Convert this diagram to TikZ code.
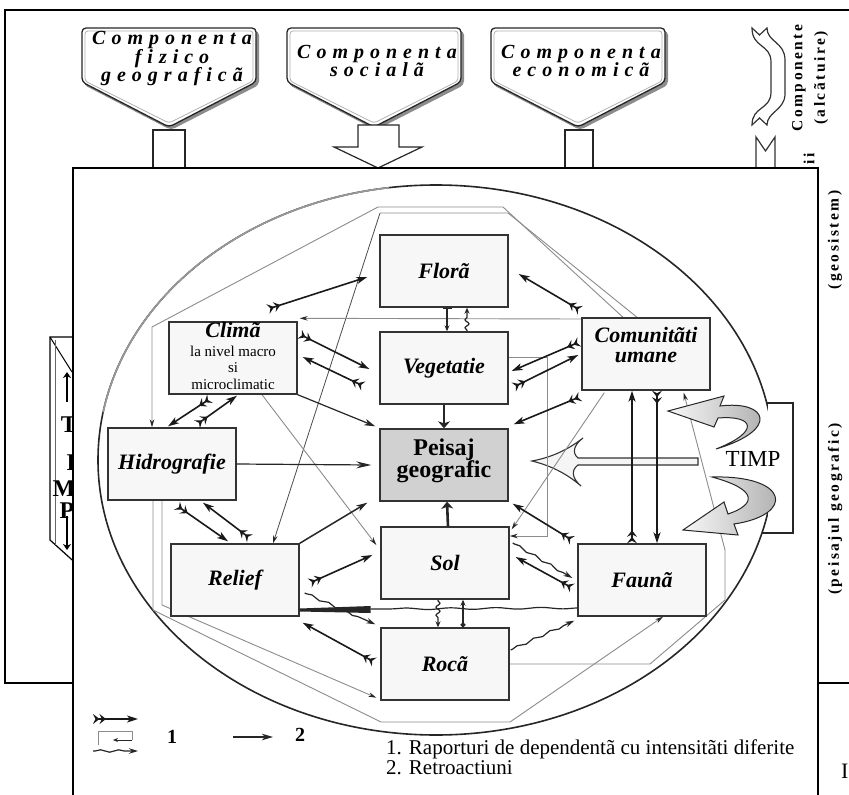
\documentclass[tikz,border=0pt]{standalone}
\usepackage{fontspec}
\setmainfont{Liberation Serif}
\newfontfamily\spacedtop[LetterSpace=30]{Liberation Serif}
\newfontfamily\spacedside[LetterSpace=16]{Liberation Serif}
\usetikzlibrary{arrows.meta,decorations.pathmorphing,calc}
\pgfdeclarelayer{back}
\pgfsetlayers{back,main}
\begin{document}
\begin{tikzpicture}[x=1pt,y=-1pt,
  box/.style={draw=black!80, line width=1.4pt, fill=black!3, minimum width=128pt, minimum height=72pt, inner sep=0pt, font=\fontsize{22}{22}\selectfont\bfseries\itshape},
  lbl/.style={inner sep=0pt, anchor=base, font=\fontsize{22}{22}\selectfont\bfseries\itshape},
  reg/.style={inner sep=0pt, anchor=base, font=\fontsize{15}{15}\selectfont},
  pgtxt/.style={inner sep=0pt, anchor=base, font=\fontsize{24}{24}\selectfont\bfseries},
  fl/.style={line width=1.6pt, draw=black!90, {Stealth[reversed,length=6.5pt,width=10pt,inset=2.5pt]Stealth[reversed,length=6.5pt,width=10pt,inset=2.5pt]}-{Stealth[length=11pt,width=7pt,inset=3pt]}},
  pl/.style={line width=1.2pt, draw=black!85, -{Stealth[length=11pt,width=6.5pt,inset=3pt]}},
  tk/.style={line width=2.6pt, draw=black!85, -{Stealth[length=7pt,width=12pt,inset=2pt]}},
  tbar/.style={line width=1.3pt, draw=black!85, {Bar[width=9pt]}-{Stealth[length=6pt,width=5pt]}},
  tcirc/.style={line width=1.3pt, draw=black!85, {Circle[length=5pt]}-{Stealth[length=6pt,width=5pt]}},
  wv/.style={line width=1.2pt, draw=black!85, -{Stealth[length=9pt,width=5.5pt]}, decorate, decoration={snake, amplitude=1.2pt, segment length=18pt, pre length=2pt, post length=10pt}},
  wvs/.style={line width=1.2pt, draw=black!85, -{Stealth[length=6pt,width=5pt]}, decorate, decoration={snake, amplitude=2pt, segment length=8pt, pre length=1pt, post length=6pt}},
  gl/.style={draw=black!45, line width=0.9pt},
  gla/.style={draw=black!45, line width=0.9pt, -{Stealth[length=8pt,width=4.5pt,color=black!85]}},
  dla/.style={draw=black!70, line width=0.8pt, -{Stealth[length=8pt,width=4.5pt,color=black!85]}},
  frm/.style={draw=black, line width=1.4pt},
  toptxt/.style={align=center, inner sep=0pt, font=\spacedtop\fontsize{20}{18.5}\selectfont\bfseries\itshape},
  side/.style={inner sep=0pt, rotate=90, font=\spacedside\fontsize{15.5}{15}\selectfont\bfseries},
  tlet/.style={inner sep=0pt, font=\fontsize{24}{24}\selectfont\bfseries},
  penta/.style={fill=white, draw=black!85, line width=1.3pt, rounded corners=4pt},
  stem/.style={fill=white, draw=black!85, line width=1.2pt},
  swoosh/.style={draw=black!85, line width=1pt, left color=black!3, right color=black!35},
]
\useasboundingbox (0,0) rectangle (849,795);

% ---------------- boxes ----------------
\node[box] (flora) at (444,271) {Florã};
\node[box] (veg) at (444,368) {Vegetatie};
\node[box] (clima) at (233,358) {};
\node[box] (com) at (646,354) {};
\node[box] (hidro) at (172,464) {Hidrografie};
\node[box, fill=black!18] (peisaj) at (444,465) {};
\node[box] (relief) at (235,580) {Relief};
\node[box] (sol) at (445,563) {Sol};
\node[box] (fauna) at (642,580) {Faunã};
\node[box] (roca) at (445,664) {Rocã};

\node[lbl] (climat) at (233,337.5) {Climã};
\node[reg] (climb) at (233,356) {la nivel macro};
\node[reg] (climc) at (233,372.8) {si};
\node[reg] (climd) at (233,389.5) {microclimatic};
\node[lbl] (comt) at (646,342) {Comunitãti};
\node[lbl] (comu) at (646,362) {umane};
\node[pgtxt] (peit) at (444,455) {Peisaj};
\node[pgtxt] (peig) at (444,477) {geografic};

% ---------------- background layer ----------------
\begin{pgfonlayer}{back}
\draw[frm] (5,10) rectangle (880,683);
\foreach \cx in {169,374,578}{
  \fill[black!45, rounded corners=4pt] (\cx-85,31) -- (\cx+90,31) -- (\cx+90,85) -- (\cx+2,130) -- (\cx-85,85) -- cycle;
  \draw[penta] (\cx-87,28) -- (\cx+87,28) -- (\cx+87,82) -- (\cx,127) -- (\cx-87,82) -- cycle;
  \draw[black!30, line width=0.8pt, rounded corners=3pt] (\cx-84,31) -- (\cx+84,31) -- (\cx+84,81) -- (\cx,123) -- (\cx-84,81) -- cycle;
}
\node[toptxt] (pa) at (172,59) {Componenta\\fizico\\geograficã};
\node[toptxt] (pb) at (377,61) {Componenta\\socialã};
\node[toptxt] (pc) at (581,61) {Componenta\\economicã};
\draw[stem] (153,130) rectangle (185,170);
\draw[stem] (565,130) rectangle (593,170);
\draw[stem] (358,125) -- (399,125) -- (399,147) -- (422,147) -- (378,168) -- (334,147) -- (358,147) -- cycle;
% ribbons
\draw[fill=white, draw=black!80, line width=1.2pt] (752,28) -- (759.5,35) -- (767,28) .. controls (767,42) and (785,42) .. (785,60) -- (785,94) .. controls (785,110) and (767,112) .. (767,125) -- (759.5,118) -- (752,125) .. controls (752,106) and (771,110) .. (771,92) -- (771,62) .. controls (771,44) and (752,48) .. (752,28) -- cycle;
\draw[fill=white, draw=black!80, line width=1.2pt] (756,170) -- (756,137) -- (765.5,151) -- (775,137) -- (775,170);
\node[side] (lcomp) at (799,78) {Componente};
\node[side] (lalc) at (821,78) {(alcãtuire)};
\node[side] (lii) at (809,159) {ii};
% left TIMP block
\draw[line width=1.2pt, fill=white] (50,337) -- (100,337) -- (100,585) -- (50,540) -- cycle;
\draw[line width=1pt] (50,337) -- (72,372);
\draw[line width=0.8pt, black!60] (55,340) -- (55,545);
\draw[line width=2.5pt, -{Stealth[length=6pt,width=8pt]}] (67,402) -- (67,372);
\draw[line width=2.5pt, -{Stealth[length=6pt,width=8pt]}] (67,516) -- (67,550);
\node[tlet] (tT) at (69,425) {T};
\node[tlet] (tI) at (71,463) {I};
\node[tlet] (tM) at (64,489) {M};
\node[tlet] (tP) at (67,511) {P};
% inner frame
\draw[line width=1.4pt, fill=white] (73,168) rectangle (818,810);
\node[side] (lgeo) at (835,240) {(geosistem)};
\node[side] (lpei) at (835,509) {(peisajul geografic)};
\node[inner sep=0pt, anchor=base west, font=\fontsize{22}{22}\selectfont] (capI) at (841,778) {I};
% ellipse and TIMP bracket
\draw[line width=1.6pt, black!85] (436,460) ellipse [x radius=338, y radius=275];
\draw[line width=1.6pt, black!40] (436,460) ++(190:338 and 275) arc[start angle=190, end angle=262, x radius=338, y radius=275];
\fill[white] (767.5,404.5) rectangle (800,531.5);
\draw[line width=1.4pt, black!85] (766,403) -- (793,403) -- (793,533) -- (762,533);
% big TIMP arrow
\draw[fill=black!4, draw=black!80, line width=1.1pt] (698,458) -- (578,458) .. controls (571,452) and (575,444) .. (583,438) .. controls (565,452) and (548,458) .. (532,461) .. controls (548,465) and (565,472) .. (581,486) .. controls (573,479) and (570,471) .. (578,465) -- (698,465) -- cycle;
% grey feedback paths
\coordinate (r1a) at (503,207); \coordinate (r1b) at (378,207); \coordinate (r1c) at (152,327);
\draw[gla] ([xshift=-23pt]com.north) -- (r1a) -- (r1b) -- (r1c) -- ([xshift=-20pt]hidro.north);
\coordinate (r2a) at (508,213); \coordinate (r2b) at (380,213);
\draw[gl] ([xshift=-9pt]com.north) -- (r2a) -- (r2b);
\draw[dla] (r2b) -- ([xshift=38pt]relief.north);
\draw[gla] ([shift={(0,-35)}]com.west) -- ([shift={(2,-3)}]clima.north east);
\coordinate (r4a) at (547,357); \coordinate (r4b) at (547,536);
\draw[gla] ([shift={(0,-11)}]veg.east) -- (r4a) -- (r4b) -- ([shift={(0,-27)}]sol.east);
\draw[gla] ([shift={(23,2)}]com.south west) -- ([shift={(2,3)}]sol.north east);
\coordinate (r6a) at (650,664); \coordinate (r6b) at (725,600); \coordinate (r6c) at (725,550);
\draw[gla] (roca.east) -- (r6a) -- (r6b) -- (r6c) -- ([shift={(-27,2)}]com.south east);
\coordinate (r7a) at (153,610); \coordinate (r7b) at (381,722); \coordinate (r7c) at (510,722);
\draw[gla] ([xshift=-19pt]hidro.south) -- (r7a) -- (r7b) -- (r7c) -- ([xshift=21pt]fauna.south);
\coordinate (r8a) at (162,605);
\draw[gla] ([xshift=-10pt]hidro.south) -- (r8a) -- ([shift={(-4,-3)}]roca.south west);
\draw[gla] ([xshift=29pt]clima.south) -- ([shift={(-4,-18)}]sol.west);
\end{pgfonlayer}

% ---------------- dependency arrows ----------------
\coordinate (f1t) at (268,309);
\draw[fl] (f1t) -- ([shift={(-12,6)}]flora.west);
\draw[fl] ([shift={(-1,-7)}]com.north west) -- ([shift={(10,3)}]flora.east);
\draw[fl] ([shift={(2,13)}]clima.north east) -- ([shift={(-10,1)}]veg.west);
\draw[fl] ([shift={(-16,18)}]veg.west) -- ([shift={(5,-1)}]clima.east);
\draw[pl] (clima.south east) -- ([shift={(-4,-2)}]peisaj.north west);
\draw[fl] ([shift={(-23,4)}]clima.south) -- ([shift={(-4,-1)}]hidro.north);
\draw[fl] ([shift={(25,-3)}]hidro.north) -- ([shift={(4,1)}]clima.south);
\draw[tk] (veg.south) -- (peisaj.north);
\draw[tbar] ([xshift=3pt]flora.south) -- ([xshift=3pt]veg.north);
\draw[wvs] ([xshift=23pt]veg.north) -- ([xshift=23pt]flora.south);
\draw[fl] ([shift={(-2,-12)}]com.west) -- ([shift={(3,3)}]veg.east);
\draw[fl] ([shift={(5,19)}]veg.east) -- ([shift={(-3,1)}]com.west);
\draw[fl] ([shift={(-1,6)}]com.south west) -- ([shift={(5,-4)}]peisaj.north east);
\draw[fl] ([xshift=-10pt]fauna.north) -- ([xshift=-14pt]com.south);
\draw[fl] ([xshift=11pt]com.south) -- ([xshift=15pt]fauna.north);
\draw[line width=1.2pt, draw=black!85, -{Stealth[length=15pt,width=7pt,inset=5pt]}] (hidro.east) -- ([shift={(-8,0)}]peisaj.west);
\draw[fl] ([shift={(5,5)}]hidro.south) -- ([shift={(-7,-2)}]relief.north);
\draw[fl] ([shift={(15,-5)}]relief.north) -- ([shift={(31,2)}]hidro.south);
\draw[pl, line width=1.5pt] (relief.north east) -- ([shift={(-12,1)}]peisaj.south west);
\draw[fl] ([shift={(10,3)}]relief.east) -- ([shift={(-8,-8)}]sol.west);
\draw[wv] ([shift={(5,13)}]relief.east) -- ([shift={(-5,-3)}]roca.north west);
\draw[line width=1.2pt, draw=black!85, decorate, decoration={snake, amplitude=0.8pt, segment length=45pt}] ([shift={(0,28)}]fauna.west) -- ([shift={(71,29)}]relief.east);
\fill[black!85] ([shift={(0,28.5)}]relief.east) -- ([shift={(71,26)}]relief.east) -- ([shift={(71,33)}]relief.east) -- ([shift={(0,31.5)}]relief.east) -- cycle;
\draw[fl] ([shift={(-6,-2)}]roca.west) -- ([shift={(3,6)}]relief.south east);
\draw[wvs] ([xshift=-7pt]sol.south) -- ([xshift=-7pt]roca.north);
\draw[tcirc] ([xshift=18pt]roca.north) -- ([xshift=18pt]sol.south);
\draw[tk] ([xshift=3pt]sol.north) -- ([xshift=3pt]peisaj.south);
\draw[fl] ([shift={(-5,-3)}]fauna.north west) -- ([shift={(4,2)}]peisaj.south east);
\draw[wv] ([shift={(3,-20)}]sol.east) -- ([shift={(-5,-2)}]fauna.west);
\draw[fl] ([shift={(-5,8)}]fauna.west) -- ([shift={(6,-6)}]sol.east);
\draw[wv] ([shift={(1,-14)}]roca.east) -- ([shift={(-3,4)}]fauna.south west);

% ---------------- TIMP swooshes ----------------
\draw[swoosh] (668,411) -- (724,396) -- (720,406) .. controls (768,400) and (780,430) .. (716,449) .. controls (760,432) and (755,415) .. (718,418) -- (714,427) -- cycle;
\draw[swoosh] (683,530) -- (724,502) -- (728,514) .. controls (755,505) and (760,490) .. (712,477) .. controls (790,475) and (795,515) .. (734,524) -- (738,535) -- cycle;
\node[inner sep=0pt, font=\fontsize{23}{23}\selectfont] (timp) at (753,459) {TIMP};

% ---------------- legend ----------------
\coordinate (lg1a) at (93,719); \coordinate (lg1b) at (138,719);
\draw[fl] (lg1a) -- (lg1b);
\coordinate (lg2a) at (98,745); \coordinate (lg2b) at (132,731); \coordinate (lg2c) at (132,740); \coordinate (lg2d) at (113,740);
\draw[gl] (lg2a) |- (lg2b) -- (lg2c);
\draw[line width=1pt, draw=black!85, -{Stealth[length=5pt,width=4pt]}] (lg2c) -- (lg2d);
\coordinate (lg3a) at (93,751); \coordinate (lg3b) at (138,751);
\draw[wv] (lg3a) -- (lg3b);
\node[inner sep=0pt, font=\fontsize{20}{20}\selectfont\bfseries] (n1) at (172,737) {1};
\coordinate (lg4a) at (233,737); \coordinate (lg4b) at (273,737);
\draw[pl] (lg4a) -- (lg4b);
\node[inner sep=0pt, font=\fontsize{20}{20}\selectfont\bfseries] (n2) at (300,735) {2};
\node[inner sep=0pt, anchor=base west, font=\fontsize{21}{21}\selectfont] (leg1) at (386,754) {1. Raporturi de dependentã cu intensitãti diferite};
\node[inner sep=0pt, anchor=base west, font=\fontsize{21}{21}\selectfont] (leg2) at (386,774) {2. Retroactiuni};
\end{tikzpicture}
\end{document}
